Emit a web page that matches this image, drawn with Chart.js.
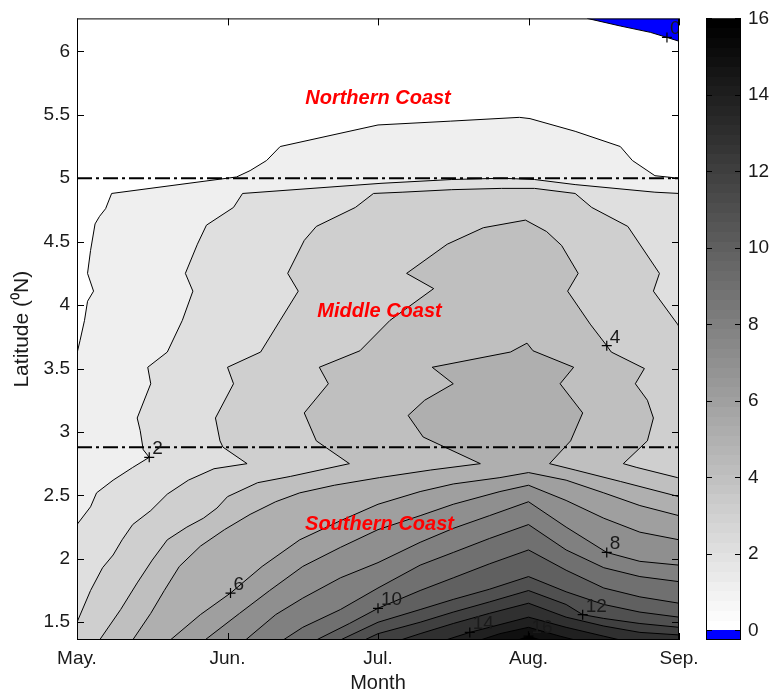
<!DOCTYPE html>
<html>
<head>
<meta charset="utf-8">
<script src="https://cdn.jsdelivr.net/npm/chart.js@4.4.1/dist/chart.umd.min.js"></script>
<style>
  html, body { margin: 0; padding: 0; background: #fff; }
  #wrap { position: relative; width: 772px; height: 692px; }
  #main { position: absolute; left: 0; top: 0; }
  #cbar { position: absolute; left: 700px; top: 0; }
</style>
</head>
<body>
<div id="wrap">
  <canvas id="main" width="700" height="692"></canvas>
  <canvas id="cbar" width="72" height="692"></canvas>
</div>
<script>
// ─── Axes ───────────────────────────────────────────────────────────────────

const MONTH_TICKS = [5, 6, 7, 8, 9];
const MONTH_LABELS = ['May.', 'Jun.', 'Jul.', 'Aug.', 'Sep.'];
const LAT_TICKS = [1.5, 2, 2.5, 3, 3.5, 4, 4.5, 5, 5.5, 6];
const X_MIN = 5, X_MAX = 9;
const Y_MIN = 1.36, Y_MAX = 6.26;

// coast boundaries (dash-dot lines)
const COAST_LIMITS = [5.0, 2.88];

// ─── Contour paths, [month, latitude] ───────────────────────────────────────

const level0 = [[8.39,6.26],[8.61,6.20],[8.81,6.15],[8.92,6.11],[9.00,6.08]];
const level1 = [[5.00,3.62],[5.02,3.72],[5.05,3.88],[5.07,4.03],[5.11,4.11],[5.07,4.25],[5.09,4.43],[5.12,4.64],[5.15,4.70],[5.19,4.76],[5.23,4.88],[6.06,5.01],[6.15,5.06],[6.26,5.14],[6.35,5.25],[7.00,5.42],[7.48,5.45],[7.94,5.48],[8.01,5.47],[8.31,5.37],[8.61,5.25],[8.69,5.14],[8.84,5.02],[9.00,5.00]];
const level2 = [[5.00,2.27],[5.09,2.41],[5.13,2.52],[5.24,2.62],[5.37,2.72],[5.48,2.80],[5.44,2.86],[5.42,3.01],[5.40,3.11],[5.49,3.38],[5.47,3.51],[5.60,3.63],[5.70,3.88],[5.77,4.11],[5.72,4.25],[5.80,4.48],[5.86,4.63],[6.04,4.77],[6.10,4.88],[7.02,4.96],[7.49,4.99],[7.82,5.00],[8.04,4.99],[8.31,4.95],[8.84,4.89],[9.00,4.88]];
const level3 = [[5.00,1.50],[5.09,1.75],[5.17,1.93],[5.24,2.03],[5.30,2.15],[5.37,2.27],[5.49,2.38],[5.60,2.51],[5.74,2.62],[5.91,2.71],[6.13,2.75],[5.97,2.88],[5.95,2.93],[5.92,3.11],[6.04,3.38],[6.00,3.51],[6.22,3.63],[6.35,3.88],[6.47,4.11],[6.40,4.25],[6.51,4.51],[6.59,4.62],[6.85,4.77],[6.97,4.88],[7.16,4.89],[7.49,4.91],[7.82,4.92],[8.04,4.92],[8.31,4.88],[8.42,4.77],[8.66,4.62],[8.87,4.25],[8.83,4.11],[8.99,3.85],[9.00,3.83]];
const level4 = [[5.15,1.36],[5.29,1.60],[5.40,1.81],[5.50,1.99],[5.60,2.15],[5.73,2.25],[5.84,2.32],[5.93,2.40],[6.00,2.49],[6.20,2.60],[6.42,2.65],[6.81,2.75],[6.59,2.93],[6.51,3.15],[6.67,3.38],[6.61,3.51],[6.88,3.64],[7.08,3.88],[7.37,4.13],[7.19,4.25],[7.46,4.48],[7.70,4.61],[7.98,4.67],[8.12,4.58],[8.22,4.47],[8.33,4.25],[8.26,4.11],[8.41,3.85],[8.52,3.68],[8.55,3.63],[8.77,3.50],[8.71,3.38],[8.79,3.25],[8.83,3.11],[8.79,2.93],[8.63,2.75],[8.72,2.72],[8.99,2.64],[9.00,2.64]];
const level5 = [[5.37,1.36],[5.49,1.57],[5.58,1.75],[5.68,1.94],[5.82,2.10],[5.98,2.23],[6.15,2.35],[6.32,2.45],[6.48,2.52],[6.71,2.58],[7.01,2.64],[7.35,2.70],[7.68,2.75],[7.30,2.96],[7.20,3.13],[7.31,3.25],[7.50,3.38],[7.36,3.51],[7.88,3.63],[7.99,3.70],[8.03,3.64],[8.30,3.51],[8.21,3.38],[8.36,3.15],[8.28,2.93],[8.14,2.75],[8.31,2.70],[8.61,2.61],[9.00,2.49]];
const level6 = [[5.62,1.36],[5.82,1.56],[6.02,1.73],[6.23,1.94],[6.48,2.15],[6.75,2.30],[7.00,2.43],[7.28,2.53],[7.50,2.59],[7.81,2.64],[8.00,2.68],[8.25,2.62],[8.50,2.52],[8.74,2.42],[9.00,2.34]];
const level7 = [[5.85,1.36],[6.08,1.57],[6.28,1.75],[6.50,1.94],[6.75,2.09],[7.00,2.23],[7.28,2.34],[7.50,2.43],[7.81,2.53],[8.00,2.58],[8.25,2.46],[8.50,2.32],[8.74,2.21],[9.00,2.15]];
const level8 = [[6.12,1.36],[6.32,1.56],[6.50,1.69],[6.75,1.85],[7.00,1.97],[7.28,2.13],[7.50,2.24],[7.74,2.34],[8.00,2.45],[8.25,2.25],[8.52,2.05],[8.74,1.98],[9.00,1.95]];
const level9 = [[6.37,1.36],[6.50,1.46],[6.75,1.60],[7.00,1.77],[7.28,1.95],[7.50,2.05],[7.74,2.16],[8.00,2.27],[8.25,2.07],[8.50,1.93],[8.74,1.86],[9.00,1.82]];
const level10 = [[6.59,1.36],[6.81,1.49],[7.00,1.61],[7.28,1.75],[7.50,1.85],[7.74,1.96],[8.00,2.07],[8.25,1.91],[8.50,1.77],[8.74,1.70],[9.00,1.65]];
const level11 = [[6.75,1.36],[7.00,1.50],[7.28,1.60],[7.50,1.68],[7.74,1.76],[8.00,1.86],[8.25,1.74],[8.50,1.64],[8.74,1.58],[9.00,1.54]];
const level12 = [[6.91,1.36],[7.00,1.41],[7.28,1.50],[7.50,1.58],[7.74,1.66],[8.00,1.75],[8.25,1.64],[8.36,1.56],[8.50,1.53],[8.74,1.49],[9.00,1.46]];
const level13 = [[7.15,1.36],[7.28,1.41],[7.50,1.49],[7.74,1.57],[8.00,1.65],[8.25,1.54],[8.50,1.47],[8.74,1.42],[9.00,1.40]];
const level14 = [[7.45,1.36],[7.61,1.42],[7.74,1.46],[8.00,1.54],[8.25,1.46],[8.50,1.39],[8.61,1.36]];
const level15 = [[7.68,1.36],[7.81,1.41],[8.00,1.46],[8.21,1.39],[8.31,1.36]];
const level16 = [[7.93,1.36],[8.00,1.39],[8.08,1.36]];

const CONTOURS = [level0, level1, level2, level3, level4, level5, level6, level7, level8,
  level9, level10, level11, level12, level13, level14, level15, level16];

// clabel markers: [month, latitude, text]
const CONTOUR_LABELS = [[8.92,6.11,'0'],[5.48,2.80,'2'],[8.52,3.68,'4'],[6.02,1.73,'6'],
  [8.52,2.05,'8'],[7.00,1.61,'10'],[8.36,1.56,'12'],[7.61,1.42,'14'],[8.00,1.39,'16']];

const REGION_NAMES = [['Northern Coast', 7.00, 5.63], ['Middle Coast', 7.01, 3.95], ['Southern Coast', 7.01, 2.27]];

// ─── Colour scale ───────────────────────────────────────────────────────────

const CBAR_MIN = -0.254, CBAR_MAX = 16;
const CBAR_TICKS = [0, 2, 4, 6, 8, 10, 12, 14, 16];
const BELOW_ZERO = '#0000ff';

function shade(v) {
  const g = Math.max(0, Math.round(255 * (1 - v / 16)));
  return `rgb(${g},${g},${g})`;
}

const FONT = '"Liberation Sans", Arial, Helvetica, sans-serif';
const INK = '#1a1a1a';

const toXY = p => ({ x: p[0], y: p[1] });

// close a contour along the bottom of the box so it encloses the higher values
function superLevel(path) {
  const pts = path.slice();
  const start = path[0], end = path[path.length - 1];
  if (end[0] >= X_MAX) pts.push([X_MAX, Y_MIN]);
  if (start[0] <= X_MIN) pts.push([X_MIN, Y_MIN]);
  return pts;
}

// ─── Frame & inward ticks ───────────────────────────────────────────────────

function framePlugin(xTicks, yTicks, len) {
  return {
    id: 'frameTicks',
    afterDatasetsDraw(chart) {
      const { ctx, chartArea: a } = chart;
      const xs = chart.scales.x, ys = chart.scales.y;
      ctx.save();
      ctx.strokeStyle = '#000';
      ctx.lineWidth = 1;
      ctx.beginPath();
      xTicks.forEach(v => {
        const px = Math.round(xs.getPixelForValue(v)) + 0.5;
        ctx.moveTo(px, a.top); ctx.lineTo(px, a.top + len);
        ctx.moveTo(px, a.bottom); ctx.lineTo(px, a.bottom - len);
      });
      yTicks.forEach(v => {
        const py = Math.round(ys.getPixelForValue(v)) + 0.5;
        ctx.moveTo(a.left, py); ctx.lineTo(a.left + len, py);
        ctx.moveTo(a.right, py); ctx.lineTo(a.right - len, py);
      });
      ctx.stroke();
      ctx.strokeRect(a.left + 0.5, a.top + 0.5, a.right - a.left - 1, a.bottom - a.top - 1);
      ctx.restore();
    }
  };
}

const textPlugin = {
  id: 'contourText',
  afterDatasetsDraw(chart) {
    const { ctx, chartArea: a } = chart;
    const xs = chart.scales.x, ys = chart.scales.y;
    ctx.save();
    ctx.beginPath();
    ctx.rect(a.left, a.top, a.right - a.left, a.bottom - a.top);
    ctx.clip();
    ctx.font = `19px ${FONT}`;
    ctx.fillStyle = INK;
    ctx.textAlign = 'left';
    ctx.textBaseline = 'alphabetic';
    CONTOUR_LABELS.forEach(([m, lat, t]) => {
      ctx.fillText(t, xs.getPixelForValue(m) + 3, ys.getPixelForValue(lat) - 3);
    });
    ctx.font = `italic bold 20px ${FONT}`;
    ctx.fillStyle = '#ff0000';
    ctx.textAlign = 'center';
    ctx.textBaseline = 'middle';
    REGION_NAMES.forEach(([t, m, lat]) => {
      ctx.fillText(t, xs.getPixelForValue(m), ys.getPixelForValue(lat));
    });
    ctx.restore();
  }
};

// ─── Datasets ───────────────────────────────────────────────────────────────

const datasets = [];

// filled bands: each superlevel region painted over the one below it
CONTOURS.forEach((path, k) => {
  const region = k === 0 ? path.concat([[X_MAX, Y_MAX]]) : superLevel(path);
  datasets.push({
    data: region.map(toXY),
    showLine: true,
    fill: 'shape',
    backgroundColor: k === 0 ? BELOW_ZERO : shade(k),
    borderColor: 'transparent',
    borderWidth: 0,
    pointRadius: 0,
    order: 100 - k
  });
});

// contour lines
CONTOURS.forEach(path => {
  datasets.push({
    data: path.map(toXY),
    showLine: true,
    fill: false,
    borderColor: '#000',
    borderWidth: 1,
    pointRadius: 0,
    order: 10
  });
});

// coast limits
COAST_LIMITS.forEach(lat => {
  datasets.push({
    data: [{ x: X_MIN, y: lat }, { x: X_MAX, y: lat }],
    showLine: true,
    fill: false,
    borderColor: '#000',
    borderWidth: 2,
    borderDash: [15, 4, 3, 4],
    pointRadius: 0,
    order: 5
  });
});

// clabel '+' markers
datasets.push({
  data: CONTOUR_LABELS.map(toXY),
  showLine: false,
  pointStyle: 'cross',
  pointRadius: 5,
  borderColor: '#000',
  borderWidth: 1.2,
  order: 1
});

new Chart(document.getElementById('main'), {
  type: 'scatter',
  data: { datasets },
  plugins: [textPlugin, framePlugin(MONTH_TICKS, LAT_TICKS, 7)],
  options: {
    responsive: false,
    animation: false,
    events: [],
    layout: { padding: { left: 0, top: 17, right: 21, bottom: 0 } },
    plugins: { legend: { display: false }, tooltip: { enabled: false } },
    elements: { line: { tension: 0 } },
    scales: {
      x: {
        type: 'linear',
        min: X_MIN,
        max: X_MAX,
        afterBuildTicks: s => { s.ticks = MONTH_TICKS.map(v => ({ value: v })); },
        afterFit: s => { s.height = 52; s.paddingLeft = 0; s.paddingRight = 0; },
        grid: { display: false, drawTicks: false },
        border: { display: false },
        ticks: {
          color: INK,
          padding: 7,
          maxRotation: 0,
          font: { family: FONT, size: 19 },
          callback: v => MONTH_LABELS[MONTH_TICKS.indexOf(v)]
        },
        title: { display: true, text: 'Month', color: INK, font: { family: FONT, size: 20 }, padding: { top: 0, bottom: -3 } }
      },
      y: {
        type: 'linear',
        min: Y_MIN,
        max: Y_MAX,
        afterBuildTicks: s => { s.ticks = LAT_TICKS.map(v => ({ value: v })); },
        afterFit: s => { s.width = 77; },
        grid: { display: false, drawTicks: false },
        border: { display: false },
        ticks: {
          color: INK,
          padding: 7,
          font: { family: FONT, size: 19 },
          callback: v => String(v)
        },
        title: { display: true, text: 'Latitude (\u2070N)', color: INK, font: { family: FONT, size: 21 }, padding: { top: 10, bottom: 0 } }
      }
    }
  }
});

// ─── Colour bar ─────────────────────────────────────────────────────────────

function colourbarFill(c) {
  const chart = c.chart;
  if (!chart.chartArea) return null;
  const ys = chart.scales.y;
  const y0 = ys.getPixelForValue(CBAR_MIN), y1 = ys.getPixelForValue(CBAR_MAX);
  const g = chart.ctx.createLinearGradient(0, y0, 0, y1);
  const n = 64;
  for (let i = 0; i < n; i++) {
    const t0 = i / n, t1 = (i + 1) / n;
    const col = i === 0 ? BELOW_ZERO : shade(16 * (i - 1) / (n - 2));
    g.addColorStop(t0, col);
    g.addColorStop(Math.min(1, t1 - 1e-6), col);
  }
  return g;
}

new Chart(document.getElementById('cbar'), {
  type: 'bar',
  data: {
    labels: ['scale'],
    datasets: [{
      data: [[CBAR_MIN, CBAR_MAX]],
      backgroundColor: colourbarFill,
      borderWidth: 0,
      barPercentage: 1,
      categoryPercentage: 1
    }]
  },
  plugins: [framePlugin([], CBAR_TICKS, 6)],
  options: {
    responsive: false,
    animation: false,
    events: [],
    layout: { padding: { left: 6, top: 17, right: 0, bottom: 52 } },
    plugins: { legend: { display: false }, tooltip: { enabled: false } },
    scales: {
      x: { display: false },
      y: {
        position: 'right',
        min: CBAR_MIN,
        max: CBAR_MAX,
        afterBuildTicks: s => { s.ticks = CBAR_TICKS.map(v => ({ value: v })); },
        afterFit: s => { s.width = 31; },
        grid: { display: false, drawTicks: false },
        border: { display: false },
        ticks: { color: INK, padding: 7, font: { family: FONT, size: 19 } }
      }
    }
  }
});
</script>
</body>
</html>
